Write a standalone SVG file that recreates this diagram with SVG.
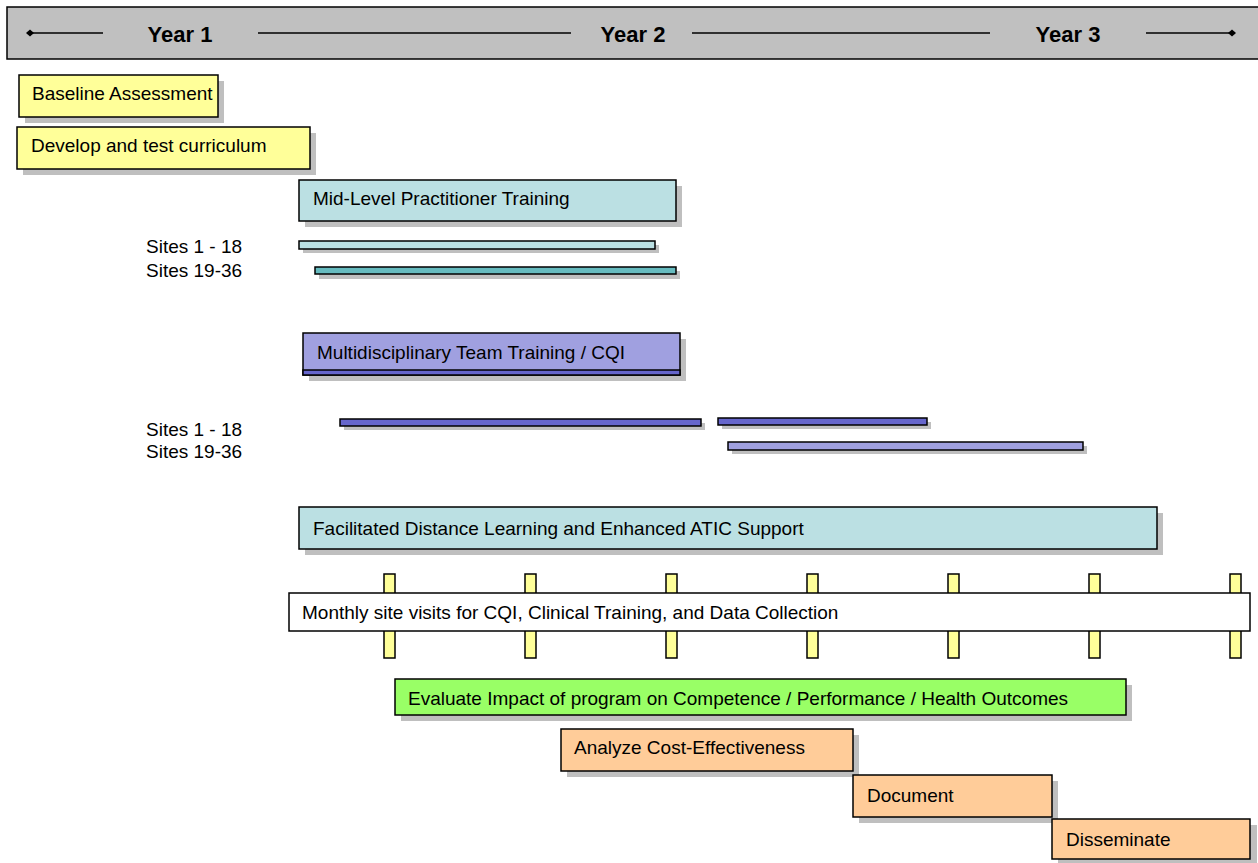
<svg xmlns="http://www.w3.org/2000/svg" width="1258" height="863" viewBox="0 0 1258 863">
<style>
text{font-family:"Liberation Sans",Arial,sans-serif;font-size:19px;fill:#000}
.hd{font-weight:bold;font-size:22px}
.box{stroke:#000;stroke-width:1.5}
.sh{fill:#BFBFBF}
.yel{fill:#FFFF99}
.teal{fill:#BBE0E3}
.tealD{fill:#66BBBF}
.lav{fill:#A0A0E0}
.lavD{fill:#6666CC}
.grn{fill:#99FF66}
.org{fill:#FFCC99}
.hl{stroke:#000;stroke-width:1.5}
</style>
<rect width="1258" height="863" fill="#fff"/>
<g id="header">
<rect x="7" y="7" width="1260" height="52" fill="#C0C0C0" stroke="#000" stroke-width="1.5"/>
<line class="hl" x1="30" y1="33" x2="103" y2="33"/>
<path d="M26,33 L30,29.5 L34,33 L30,36.5 Z" fill="#000"/>
<text class="hd" x="180" y="42" text-anchor="middle">Year 1</text>
<line class="hl" x1="258" y1="33" x2="571" y2="33"/>
<text class="hd" x="633" y="42" text-anchor="middle">Year 2</text>
<line class="hl" x1="692" y1="33" x2="990" y2="33"/>
<text class="hd" x="1068" y="42" text-anchor="middle">Year 3</text>
<line class="hl" x1="1146" y1="33" x2="1232" y2="33"/>
<path d="M1228,33 L1232,29.5 L1236,33 L1232,36.5 Z" fill="#000"/>
</g>
<g id="baseline">
<rect class="sh" x="25" y="81" width="199" height="42"/>
<rect class="box yel" x="19" y="75" width="199" height="42"/>
<text x="32" y="100">Baseline Assessment</text>
</g>
<g id="develop">
<rect class="sh" x="23" y="133" width="293" height="42"/>
<rect class="box yel" x="17" y="127" width="293" height="42"/>
<text x="31" y="152">Develop and test curriculum</text>
</g>
<g id="midlevel">
<rect class="sh" x="305" y="186" width="377" height="41"/>
<rect class="box teal" x="299" y="180" width="377" height="41"/>
<text x="313" y="205">Mid-Level Practitioner Training</text>
</g>
<g id="ml-sites">
<text x="146" y="253">Sites 1 - 18</text>
<text x="146" y="277">Sites 19-36</text>
<rect class="sh" x="303" y="245" width="356" height="8"/>
<rect class="box teal" x="299" y="241" width="356" height="8"/>
<rect class="sh" x="319" y="271" width="361" height="8"/>
<rect class="box tealD" x="315" y="267" width="361" height="7"/>
</g>
<g id="multi">
<rect class="sh" x="309" y="339" width="377" height="42"/>
<rect class="box lav" x="303" y="333" width="377" height="42"/>
<rect class="box lavD" x="303" y="370" width="377" height="5"/>
<text x="317" y="359">Multidisciplinary Team Training / CQI</text>
</g>
<g id="mt-sites">
<text x="146" y="436">Sites 1 - 18</text>
<text x="146" y="458">Sites 19-36</text>
<rect class="sh" x="344" y="423" width="361" height="7"/>
<rect class="box lavD" x="340" y="419" width="361" height="7"/>
<rect class="sh" x="722" y="422" width="209" height="7"/>
<rect class="box lavD" x="718" y="418" width="209" height="7"/>
<rect class="sh" x="732" y="446" width="355" height="8"/>
<rect class="box lav" x="728" y="442" width="355" height="8"/>
</g>
<g id="facilitated">
<rect class="sh" x="305" y="513" width="858" height="42"/>
<rect class="box teal" x="299" y="507" width="858" height="42"/>
<text x="313" y="535">Facilitated Distance Learning and Enhanced ATIC Support</text>
</g>
<g id="monthly">
<rect class="box yel" x="384" y="574" width="11" height="84"/>
<rect class="box yel" x="525" y="574" width="11" height="84"/>
<rect class="box yel" x="666" y="574" width="11" height="84"/>
<rect class="box yel" x="807" y="574" width="11" height="84"/>
<rect class="box yel" x="948" y="574" width="11" height="84"/>
<rect class="box yel" x="1089" y="574" width="11" height="84"/>
<rect class="box yel" x="1230" y="574" width="11" height="84"/>
<rect class="box" fill="#fff" x="289" y="593" width="961" height="38"/>
<text x="302" y="619">Monthly site visits for CQI, Clinical Training, and Data Collection</text>
</g>
<g id="evaluate">
<rect class="sh" x="401" y="685" width="731" height="36"/>
<rect class="box grn" x="395" y="679" width="731" height="36"/>
<text x="408" y="705">Evaluate Impact of program on Competence / Performance / Health Outcomes</text>
</g>
<g id="analyze">
<rect class="sh" x="567" y="735" width="292" height="42"/>
<rect class="box org" x="561" y="729" width="292" height="42"/>
<text x="574" y="754">Analyze Cost-Effectiveness</text>
</g>
<g id="document">
<rect class="sh" x="859" y="781" width="199" height="42"/>
<rect class="box org" x="853" y="775" width="199" height="42"/>
<text x="867" y="802">Document</text>
</g>
<g id="disseminate">
<rect class="sh" x="1058" y="825" width="199" height="40"/>
<rect class="box org" x="1052" y="819" width="198" height="40"/>
<text x="1066" y="846">Disseminate</text>
</g>
<g id="connectors"></g>
</svg>
